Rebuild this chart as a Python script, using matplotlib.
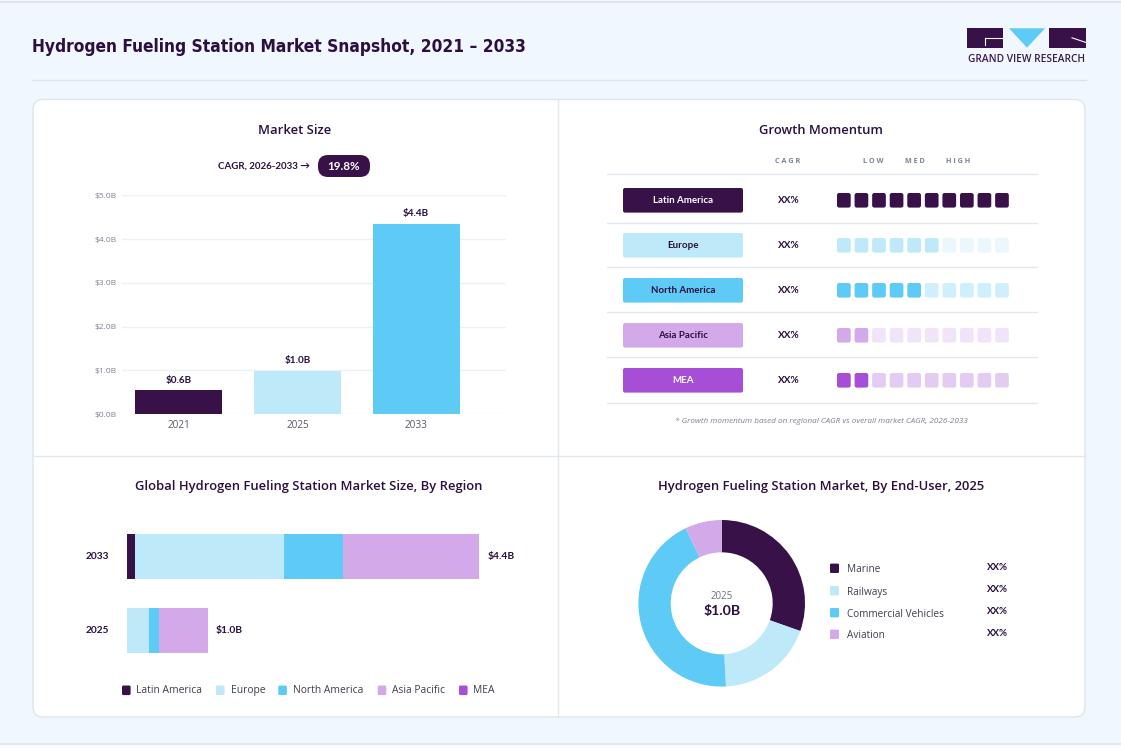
import matplotlib
matplotlib.use("Agg")
import matplotlib.pyplot as plt
from matplotlib.patches import FancyBboxPatch, Rectangle, Polygon

W, H = 1121, 748

# ---------------- data ----------------
main_title = "Hydrogen Fueling Station Market Snapshot, 2021 – 2033"

size_years = ["2021", "2025", "2033"]
size_values = [0.55, 0.99, 4.35]
size_labels = ["$0.6B", "$1.0B", "$4.4B"]
size_ticks = [0, 1, 2, 3, 4, 5]
size_tick_labels = ["$0.0B", "$1.0B", "$2.0B", "$3.0B", "$4.0B", "$5.0B"]
size_colors = ["#371147", "#BDE9F9", "#5DCBF5"]
cagr_text = "CAGR, 2026-2033 \u2192"
cagr_value = "19.8%"

regions = ["Latin America", "Europe", "North America", "Asia Pacific", "MEA"]
region_colors = ["#371147", "#BDE9F9", "#5DCBF5", "#D4A9EA", "#A64FD6"]
region_faded = ["#371147", "#EAF7FD", "#CFEFFC", "#F1E4F8", "#E4CBF2"]
region_text_colors = ["white", "#2B0F3F", "#2B0F3F", "#2B0F3F", "white"]
momentum_filled = [10, 6, 5, 2, 2]
momentum_cagr = ["XX%", "XX%", "XX%", "XX%", "XX%"]
momentum_levels = ["LOW", "MED", "HIGH"]
momentum_note = "* Growth momentum based on regional CAGR vs overall market CAGR, 2026-2033"

stack_years = ["2025", "2033"]
stack_latin_america = [0.004, 0.10]
stack_europe = [0.275, 1.84]
stack_north_america = [0.12, 0.73]
stack_asia_pacific = [0.60, 1.67]
stack_mea = [0.003, 0.012]
stack_totals_labels = ["$1.0B", "$4.4B"]

end_users = ["Marine", "Railways", "Commercial Vehicles", "Aviation"]
end_user_shares = [30.4, 18.8, 43.7, 7.1]
end_user_colors = ["#371147", "#BDE9F9", "#5DCBF5", "#D4A9EA"]
end_user_pct = ["XX%", "XX%", "XX%", "XX%"]
donut_year = "2025"
donut_total = "$1.0B"

# ---------------- style ----------------
DARK = "#2B0F3F"
GRAY = "#7D8190"
LINE = "#E1E7EF"
plt.rcParams["font.family"] = ["Open Sans", "DejaVu Sans"]
BF = ["Lato", "DejaVu Sans"]          # bold labels
BK = dict(family=BF, fontweight="bold")

fig = plt.figure(figsize=(W / 100, H / 100), dpi=100)
fig.patch.set_facecolor("#F0F7FE")

ov = fig.add_axes([0, 0, 1, 1], zorder=0)
ov.set_xlim(0, W)
ov.set_ylim(H, 0)
ov.axis("off")


def fax(x0, y0, x1, y1, **kw):
    """axes from pixel box (top-left origin)"""
    return fig.add_axes([x0 / W, 1 - y1 / H, (x1 - x0) / W, (y1 - y0) / H], **kw)


# page borders
ov.plot([0, W], [2, 2], color="#E0E5EC", lw=1.5)
ov.plot([0, W], [743.5, 743.5], color="#E0E5EC", lw=1.2)
ov.add_patch(Rectangle((0, 744), W, 4, fc="#F8FAFD", ec="none"))

# header
ov.text(32, 47, main_title, fontsize=12.4, fontweight="bold", color=DARK,
        va="center", ha="left", family="DejaVu Sans", fontstretch="condensed")
ov.plot([32, 1086], [79.5, 79.5], color="#DCE3EC", lw=1)

# logo
ov.add_patch(Rectangle((967.3, 28.3), 36, 19.4, fc="#371147", ec="none"))
ov.plot([984.5, 1003.3], [37.8, 37.8], color="white", lw=0.8)
ov.plot([984.5, 984.5], [37.8, 44.5], color="white", lw=0.8)
ov.add_patch(Polygon([[1009, 28.3], [1045, 28.3], [1027, 47.7]], closed=True,
                     fc="#5DCBF5", ec="none"))
ov.add_patch(Rectangle((1049.3, 28.3), 36.7, 19.4, fc="#371147", ec="none"))
ov.plot([1072, 1086], [37.8, 42.5], color="white", lw=0.8)
ov.text(1027, 59.5, "GRAND VIEW RESEARCH", fontsize=7.3, color="#3A1A4F",
        ha="center", va="center", fontweight="semibold")

# card
ov.add_patch(FancyBboxPatch((33, 99.5), 1052, 617.5,
                            boxstyle="round,pad=0,rounding_size=10",
                            fc="white", ec="#DDE5EE", lw=1))
ov.plot([558, 558], [100, 716.5], color=LINE, lw=1)
ov.plot([33.5, 1084.5], [455.5, 455.5], color=LINE, lw=1)

TITLE_KW = dict(fontsize=9.4, color=DARK, ha="center", va="center", fontweight="semibold")

# ---------------- Market Size ----------------
ov.text(295, 130, "Market Size", **TITLE_KW)
ov.text(310, 166, cagr_text, fontsize=7.0, color=DARK, ha="right", va="center", **BK)
ov.add_patch(FancyBboxPatch((318, 155), 52, 22, boxstyle="round,pad=0,rounding_size=10",
                            fc="#371147", ec="none"))
ov.text(344, 166.5, cagr_value, fontsize=8.4, color="white",
        ha="center", va="center", **BK)

ax1 = fax(121.7, 195.3, 505.7, 414.3, zorder=1)
ax1.set_facecolor("none")
x = list(range(len(size_years)))
bars = ax1.bar(x, size_values, width=0.73, color=size_colors, edgecolor="none", zorder=3)
for b in bars:
    b.set_joinstyle("round")
for xi, v, lab in zip(x, size_values, size_labels):
    ax1.text(xi, v + 0.13, lab, ha="center", va="bottom", fontsize=7.2,
             color=DARK, **BK)
ax1.set_xlim(-0.48, 2.754)
ax1.set_ylim(0, 5)
ax1.set_yticks(size_ticks)
ax1.set_yticklabels(size_tick_labels, fontsize=6, color=GRAY)
ax1.set_xticks(x)
ax1.set_xticklabels(size_years, fontsize=7.2, color="#555A66")
ax1.tick_params(length=0, pad=4)
ax1.tick_params(axis="x", pad=4)
ax1.grid(axis="y", color="#EEF0F5", lw=1, zorder=0)
for s in ax1.spines.values():
    s.set_visible(False)

# ---------------- Growth Momentum ----------------
ov.text(821, 130, "Growth Momentum", **TITLE_KW)
HDR = dict(fontsize=5.2, color=GRAY, ha="center", va="center", fontweight="bold")
ov.text(788, 161, "C A G R", **HDR)
for lvl, xx in zip(momentum_levels, [873, 915, 958]):
    ov.text(xx, 161, " ".join(lvl), **HDR)
row_lines = [174.3, 223.3, 267.3, 312.3, 357.3, 402.7]
for yy in row_lines:
    ov.plot([606.7, 1036.7], [yy, yy], color=LINE, lw=1)
row_centers = [200.3, 245.3, 290.3, 335.3, 380.3]
for i, (reg, n) in enumerate(zip(regions, momentum_filled)):
    yc = row_centers[i]
    ov.add_patch(FancyBboxPatch((623, yc - 12.3), 120, 24.6,
                                boxstyle="round,pad=0,rounding_size=2",
                                fc=region_colors[i], ec="none"))
    ov.text(683, yc, reg, fontsize=7.0, color=region_text_colors[i],
            ha="center", va="center", **BK)
    ov.text(789, yc, momentum_cagr[i], fontsize=7.2, color=DARK,
            ha="center", va="center", **BK)
    for k in range(10):
        col = region_colors[i] if k < n else region_faded[i]
        ov.add_patch(FancyBboxPatch((837 + k * 17.57, yc - 7.3), 13.7, 14.6,
                                    boxstyle="round,pad=0,rounding_size=2.2",
                                    fc=col, ec="none"))
ov.text(821, 421, momentum_note, fontsize=5.9, style="italic", color=GRAY,
        ha="center", va="center")

# ---------------- Stacked bars by region ----------------
ov.text(309, 486.5, "Global Hydrogen Fueling Station Market Size, By Region", **TITLE_KW)
ax2 = fax(126.7, 519.7, 126.7 + 81.06 * 4.5, 667.7, zorder=1)
ax2.set_facecolor("none")
ypos = [0, 1]
left = [0.0, 0.0]
for series, col in zip([stack_latin_america, stack_europe, stack_north_america,
                        stack_asia_pacific, stack_mea], region_colors):
    ax2.barh(ypos, series, left=left, height=0.612, color=col, edgecolor="none")
    left = [l + s for l, s in zip(left, series)]
for yi, tot, lab in zip(ypos, left, stack_totals_labels):
    ax2.text(tot + 0.1, yi, lab, fontsize=7.4, color=DARK,
             ha="left", va="center", **BK)
    ax2.text(-0.36, yi, stack_years[yi], fontsize=7.3, color=DARK,
             ha="center", va="center", **BK)
ax2.set_xlim(0, 4.5)
ax2.set_ylim(-0.5, 1.5)
ax2.axis("off")

leg_sq_x = [122, 216, 278.3, 377.7, 459]
for reg, col, sx in zip(regions, region_colors, leg_sq_x):
    ov.add_patch(FancyBboxPatch((sx, 685.5), 8.6, 9.6,
                                boxstyle="round,pad=0,rounding_size=1.5",
                                fc=col, ec="none"))
    ov.text(sx + 14.5, 690.3, reg, fontsize=7.4, color="#3A3F4A",
            ha="left", va="center")

# ---------------- Donut ----------------
ov.text(821.5, 486.5, "Hydrogen Fueling Station Market, By End-User, 2025", **TITLE_KW)
R = 83.3
ax3 = fax(721.7 - R, 603.3 - R, 721.7 + R, 603.3 + R, zorder=1)
ax3.pie(end_user_shares, colors=end_user_colors, startangle=90, counterclock=False,
        radius=1, wedgeprops=dict(width=0.388, edgecolor="none"))
ax3.set_xlim(-1, 1)
ax3.set_ylim(-1, 1)
ax3.set_aspect("equal")
ax3.axis("off")
ov.text(721.7, 596.7, donut_year, fontsize=7, color="#6B7080", ha="center", va="center")
ov.text(721.7, 611.5, donut_total, fontsize=10.2, color=DARK,
        ha="center", va="center", **BK)

leg_y = [568.3, 590.7, 612.7, 634.3]
for name, col, pct, yy in zip(end_users, end_user_colors, end_user_pct, leg_y):
    ov.add_patch(FancyBboxPatch((830, yy - 4.7), 9, 9.4,
                                boxstyle="round,pad=0,rounding_size=1.2",
                                fc=col, ec="none"))
    ov.text(847, yy + 1.5, name, fontsize=7.2, color="#3A3F4A", ha="left", va="center")
    ov.text(986.5, yy - 1, pct, fontsize=7.0, color=DARK,
            ha="left", va="center", **BK)

fig.savefig("out.png", dpi=100, facecolor=fig.get_facecolor())
